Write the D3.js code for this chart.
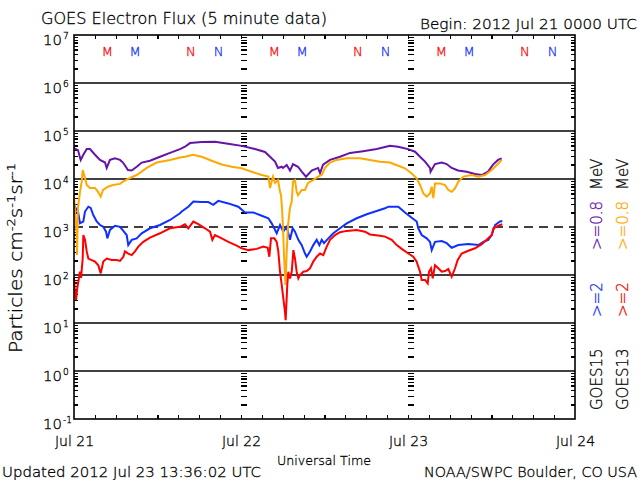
<!DOCTYPE html>
<html><head><meta charset="utf-8">
<script src="https://cdn.jsdelivr.net/npm/d3@7"></script>
<style>
body{margin:0;background:#fff}
svg{display:block}
text{font-family:"DejaVu Sans",sans-serif;font-weight:200}
</style>
</head><body>
<svg id="c" width="640" height="480"></svg>
<script>
// ---------------- DATA ----------------
// time in hours since 2012 Jul 21 00:00 UTC, flux in particles cm^-2 s^-1 sr^-1
const goes15_e08 = [[0,4.4e4],[0.57,4.0e4],[0.96,2.5e4],[1.34,3.2e4],[1.83,4.2e4],[2.30,4.2e4],[3.02,3.2e4],[3.74,2.5e4],[4.46,2.2e4],[4.70,1.7e4],[5.17,2.5e4],[5.89,2.7e4],[6.61,2.5e4],[7.04,2.2e4],[7.76,1.54e4],[8.29,1.5e4],[9.01,1.8e4],[9.73,2.2e4],[10.92,2.4e4],[12.36,2.9e4],[13.80,3.5e4],[15.23,4.2e4],[15.95,4.7e4],[16.67,5.6e4],[18.35,5.9e4],[20.26,6.0e4],[22.13,5.4e4],[24.10,4.9e4],[26.01,4.2e4],[27.45,3.65e4],[28.17,2.9e4],[28.89,2.3e4],[29.32,1.7e4],[29.85,1.8e4],[30.04,1.7e4],[30.57,1.96e4],[31.04,1.5e4],[31.47,2.05e4],[32.19,1.8e4],[32.73,1.42e4],[33.34,1.12e4],[34.16,1.5e4],[35.07,1.7e4],[35.36,1.33e4],[35.79,2.0e4],[36.79,2.5e4],[38.23,2.9e4],[39.67,3.5e4],[41.54,3.8e4],[43.50,4.2e4],[45.42,4.9e4],[46.57,4.7e4],[48.00,4.2e4],[49.01,3.7e4],[49.73,2.9e4],[50.45,2.3e4],[51.16,1.7e4],[51.24,1.42e4],[51.88,2.05e4],[52.85,2.2e4],[53.56,2.05e4],[54.28,1.7e4],[55.19,1.5e4],[56.44,1.42e4],[57.63,1.27e4],[58.60,1.21e4],[59.50,1.42e4],[60.22,2.0e4],[60.94,2.5e4],[61.47,2.7e4]];

const goes13_e08 = [[0,4.6e3],[0.14,2.1e3],[0.22,1.54e3],[0.39,6.8e2],[0.43,2.6e2],[0.57,2.5e3],[0.86,5.4e3],[1.11,8.8e3],[1.25,1.54e4],[1.58,1.05e4],[1.83,7.5e3],[2.30,6.5e3],[3.02,6.5e3],[3.45,5.4e3],[3.84,4.3e3],[4.17,5.9e3],[4.89,6.9e3],[5.61,7.5e3],[6.61,7.9e3],[7.04,8.8e3],[8.05,1.05e4],[9.01,1.21e4],[10.45,1.7e4],[11.89,2.2e4],[13.80,2.5e4],[15.23,2.8e4],[15.95,2.9e4],[17.10,3.2e4],[18.35,2.9e4],[19.79,2.4e4],[21.23,2.0e4],[22.66,1.8e4],[24.10,1.67e4],[25.54,1.42e4],[26.98,1.21e4],[27.93,1.12e4],[28.17,6.5e3],[28.60,1.12e4],[28.89,8.3e3],[29.32,9.5e3],[29.61,5.4e3],[29.75,4.6e3],[29.89,2.5e3],[30.04,9.5e2],[30.18,2.6e2],[30.39,62],[30.57,3.1e2],[30.76,1.1e3],[31.04,2.5e3],[31.29,3.4e3],[31.47,8.8e3],[31.76,9.5e3],[32.00,5.4e3],[32.19,4.6e3],[32.73,5.9e3],[33.20,5.9e3],[33.63,8.3e3],[34.35,9.5e3],[35.07,1.12e4],[35.60,1.21e4],[36.07,1.7e4],[36.79,2.2e4],[37.76,2.5e4],[39.19,2.7e4],[41.10,2.7e4],[42.54,2.5e4],[43.98,2.3e4],[45.42,2.2e4],[46.13,2.0e4],[47.57,1.67e4],[48.53,1.3e4],[49.25,1.03e4],[49.73,7.5e3],[50.20,5.0e3],[50.69,4.3e3],[51.16,5.0e3],[51.41,6.9e3],[51.64,4.0e3],[51.88,8.1e3],[52.60,8.1e3],[53.32,7.5e3],[53.79,5.9e3],[54.28,5.4e3],[54.76,6.4e3],[55.23,8.8e3],[55.95,1.12e4],[57.16,1.21e4],[58.11,1.12e4],[59.07,1.21e4],[60.03,1.54e4],[60.98,2.1e4],[61.47,2.5e4]];

const goes15_e2 = [[0,3.2e3],[0.14,2.65e3],[0.39,2.26e3],[0.57,2.1e3],[0.86,1.2e3],[1.34,1.3e3],[1.58,2.1e3],[2.06,2.65e3],[2.40,2.5e3],[2.77,1.78e3],[3.26,1.3e3],[3.74,1.1e3],[4.21,1.01e3],[4.60,8.0e2],[4.79,5.8e2],[5.17,8.7e2],[5.89,1.06e3],[6.61,1.01e3],[7.09,8.3e2],[7.57,6.8e2],[7.80,4.2e2],[8.29,5.4e2],[9.01,5.8e2],[9.73,7.4e2],[10.92,9.4e2],[12.36,1.1e3],[13.80,1.4e3],[15.23,1.93e3],[15.48,2.1e3],[16.43,2.65e3],[17.15,3.4e3],[18.35,3.3e3],[19.30,3.3e3],[20.02,2.9e3],[20.74,3.5e3],[22.18,3.1e3],[23.61,2.65e3],[24.58,2.0e3],[25.77,2.0e3],[26.98,1.72e3],[27.93,1.52e3],[28.41,1.19e3],[29.13,7.4e2],[29.61,1.1e3],[30.08,8.0e2],[30.57,1.01e3],[31.04,5.4e2],[31.43,9.4e2],[31.76,8.0e2],[32.24,5.4e2],[32.73,4.2e2],[33.20,2.8e2],[33.44,2.4e2],[33.92,3.1e2],[34.39,4.2e2],[34.88,5.4e2],[35.26,4.2e2],[35.60,5.4e2],[35.93,4.6e2],[36.55,5.8e2],[37.27,7.4e2],[38.23,9.4e2],[39.19,1.19e3],[40.63,1.52e3],[42.07,1.84e3],[43.50,2.15e3],[44.70,2.45e3],[45.17,2.65e3],[46.61,2.65e3],[47.57,2.0e3],[48.53,1.56e3],[49.25,1.3e3],[49.48,9.4e2],[49.97,6.8e2],[50.69,5.8e2],[51.16,4.9e2],[51.41,3.3e2],[51.88,4.9e2],[52.85,5.1e2],[53.56,4.6e2],[54.28,3.7e2],[55.23,4.2e2],[56.67,4.4e2],[58.11,4.2e2],[58.83,4.9e2],[59.54,5.4e2],[60.03,6.8e2],[60.51,1.1e3],[61.23,1.3e3],[61.56,1.33e3]];

const goes13_e2 = [[0,87],[0.07,62],[0.14,42],[0.29,30],[0.47,53],[0.62,72],[0.86,117],[1.01,87],[1.25,2.2e2],[1.34,6.8e2],[1.58,5.4e2],[1.83,3.1e2],[2.06,2.2e2],[2.54,2.05e2],[3.02,1.9e2],[3.49,1.6e2],[3.84,1.08e2],[4.21,1.9e2],[4.70,2.2e2],[5.42,2.05e2],[6.14,2.05e2],[6.61,1.96e2],[7.09,2.4e2],[7.33,3.1e2],[7.80,2.8e2],[8.29,2.6e2],[8.77,3.1e2],[9.24,3.9e2],[9.96,4.9e2],[10.92,6.0e2],[12.36,7.4e2],[13.80,9.4e2],[15.23,1.01e3],[15.95,1.14e3],[16.43,9.4e2],[17.15,1.3e3],[17.87,1.15e3],[18.83,9.4e2],[19.55,8.0e2],[19.88,5.4e2],[20.26,6.8e2],[21.23,5.8e2],[22.18,4.9e2],[23.38,4.1e2],[24.10,3.6e2],[25.05,3.3e2],[26.26,3.5e2],[27.21,3.9e2],[27.84,3.7e2],[28.07,2.4e2],[28.31,5.8e2],[28.79,5.8e2],[29.13,4.9e2],[29.36,3.1e2],[29.61,117],[29.85,62],[30.08,33],[30.32,17],[30.42,11.5],[30.65,62],[30.80,117],[31.04,85],[31.29,117],[31.53,3.3e2],[31.76,2.2e2],[32.00,117],[32.24,85],[32.48,100],[32.96,117],[33.44,121],[33.92,138],[34.39,1.9e2],[34.88,2.4e2],[35.36,2.8e2],[35.83,2.6e2],[36.32,3.9e2],[36.79,5.4e2],[37.51,6.8e2],[38.23,7.8e2],[39.19,8.3e2],[40.63,8.7e2],[41.82,8.0e2],[42.54,7.0e2],[43.98,6.6e2],[44.70,6.3e2],[45.66,5.4e2],[46.38,4.2e2],[47.10,3.5e2],[48.05,2.8e2],[48.76,2.4e2],[49.25,1.9e2],[49.48,1.49e2],[49.73,117],[49.97,79],[50.45,79],[50.83,67],[51.02,117],[51.31,138],[51.55,85],[51.88,1.6e2],[52.36,138],[52.85,117],[53.32,121],[53.79,133],[54.28,92],[54.76,138],[55.14,2.05e2],[55.72,2.8e2],[56.67,3.2e2],[57.63,3.6e2],[58.60,4.4e2],[59.31,5.4e2],[60.03,6.8e2],[60.27,9.4e2],[60.98,1.06e3],[61.56,1.14e3]];

const dayHours = [0, 24, 48, 72];
const dayLabels = ["Jul 21", "Jul 22", "Jul 23", "Jul 24"];
const decadeExps = [-1, 0, 1, 2, 3, 4, 5, 6, 7];
const solidGrid = [1e0, 1e1, 1e2, 1e4, 1e5, 1e6];
const dashedGrid = [1e3];
// local midnight (M) and noon (N) markers, hours UT
const g13Midnight = [4.8, 28.8, 52.8];
const g13Noon = [16.8, 40.8, 64.8];
const g15Midnight = [8.8, 32.8, 56.8];
const g15Noon = [20.8, 44.8, 68.8];

const titleText = "GOES Electron Flux (5 minute data)";
const beginText = "Begin: 2012 Jul 21 0000 UTC";
const updatedText = "Updated 2012 Jul 23 13:36:02 UTC";
const creditText = "NOAA/SWPC Boulder, CO USA";
const xTitle = "Universal Time";

// ---------------- CHART ----------------
const svg = d3.select("#c");
const X0 = 74, X1 = 575, Y0 = 35, Y1 = 419;
const x = d3.scaleLinear().domain([0, 72]).range([X0, X1]);
const y = d3.scaleLog().domain([1e-1, 1e7]).range([Y1, Y0]);

const minorVals = [];
for (let e = -1; e < 7; e++) for (let m = 2; m <= 9; m++) minorVals.push(m * Math.pow(10, e));

// grid lines
svg.append("g").selectAll("line").data(solidGrid).join("line")
  .attr("x1", X0).attr("x2", X1)
  .attr("y1", d => y(d)).attr("y2", d => y(d))
  .attr("stroke", "#000").attr("stroke-width", 1.6);
svg.append("g").selectAll("line").data(dashedGrid).join("line")
  .attr("x1", X0).attr("x2", X1)
  .attr("y1", d => y(d)).attr("y2", d => y(d))
  .attr("stroke", "#000").attr("stroke-width", 1.6).attr("stroke-dasharray", "9,6");

function styleAxis(g) {
  g.select(".domain").remove();
  g.selectAll(".tick line").attr("stroke", "#000").attr("stroke-width", 1.2).attr("shape-rendering", "crispEdges");
  g.selectAll(".tick text").remove();
}

// left / right minor ticks
svg.append("g").attr("transform", `translate(${X0},0)`)
  .call(d3.axisLeft(y).tickValues(minorVals).tickSize(-4).tickFormat(""))
  .call(styleAxis);
svg.append("g").attr("transform", `translate(${X1},0)`)
  .call(d3.axisRight(y).tickValues(minorVals).tickSize(-4).tickFormat(""))
  .call(styleAxis);
// dashes at day boundaries
[24, 48].forEach(h => {
  svg.append("g").attr("transform", `translate(${x(h)},0)`)
    .call(d3.axisRight(y).tickValues(minorVals).tickSize(6).tickFormat(""))
    .call(styleAxis);
});
// top / bottom 3-hour ticks
const hourTicks = d3.range(3, 72, 3);
svg.append("g").attr("transform", `translate(0,${Y0})`)
  .call(d3.axisTop(x).tickValues(hourTicks).tickSize(-4).tickFormat(""))
  .call(styleAxis);
svg.append("g").attr("transform", `translate(0,${Y1})`)
  .call(d3.axisBottom(x).tickValues(hourTicks).tickSize(-4).tickFormat(""))
  .call(styleAxis);

// data lines
const line = d3.line().x(d => x(d[0])).y(d => y(d[1]));
const series = [
  {data: goes15_e08, color: "#6414a8"},
  {data: goes15_e2, color: "#1030ff"},
  {data: goes13_e08, color: "#ffa800"},
  {data: goes13_e2, color: "#ff0000"}
];
svg.append("g").selectAll("path").data(series).join("path")
  .attr("d", d => line(d.data))
  .attr("fill", "none").attr("stroke", d => d.color)
  .attr("stroke-width", 2).attr("stroke-linejoin", "miter");

// frame
svg.append("rect").attr("x", X0).attr("y", Y0).attr("width", X1 - X0).attr("height", Y1 - Y0)
  .attr("fill", "none").attr("stroke", "#000").attr("stroke-width", 1.6);

// y tick labels 10^n
const yl = svg.append("g").selectAll("g").data(decadeExps).join("g");
yl.append("text").attr("x", 62).attr("y", d => y(Math.pow(10, d)) + 10)
  .attr("text-anchor", "end").attr("font-size", 14)
  .attr("textLength", 19).attr("lengthAdjust", "spacingAndGlyphs").text("10");
yl.append("text").attr("x", 63).attr("y", d => y(Math.pow(10, d)) + 4)
  .attr("font-size", 9).text(d => d < 0 ? "-" + Math.abs(d) : d);

// x labels
const xa = svg.append("g").attr("transform", `translate(0,${Y1})`)
  .call(d3.axisBottom(x).tickValues(dayHours).tickSize(0).tickPadding(17).tickFormat((d, i) => dayLabels[i]));
xa.select(".domain").remove();
xa.selectAll("text").attr("font-size", 14).attr("font-family", "DejaVu Sans").attr("font-weight", 200).attr("fill", "#000");

svg.append("text").attr("x", 324).attr("y", 465).attr("text-anchor", "middle")
  .attr("font-size", 13).attr("textLength", 94).attr("lengthAdjust", "spacingAndGlyphs").text(xTitle);

// title / header
svg.append("text").attr("x", 41).attr("y", 24).attr("font-size", 15)
  .attr("textLength", 286).attr("lengthAdjust", "spacingAndGlyphs").text(titleText);
svg.append("text").attr("x", 420).attr("y", 29).attr("font-size", 14)
  .attr("textLength", 217).attr("lengthAdjust", "spacingAndGlyphs").text(beginText);

// footer
svg.append("text").attr("x", 2).attr("y", 477).attr("font-size", 14)
  .attr("textLength", 259).attr("lengthAdjust", "spacingAndGlyphs").text(updatedText);
svg.append("text").attr("x", 424).attr("y", 477).attr("font-size", 14)
  .attr("textLength", 213).attr("lengthAdjust", "spacingAndGlyphs").text(creditText);

// M / N markers
const markers = [
  ...g13Midnight.map(h => ({h, t: "M", c: "#ff0000"})),
  ...g13Noon.map(h => ({h, t: "N", c: "#ff0000"})),
  ...g15Midnight.map(h => ({h, t: "M", c: "#1030ff"})),
  ...g15Noon.map(h => ({h, t: "N", c: "#1030ff"}))
];
svg.append("g").selectAll("text").data(markers).join("text")
  .attr("x", d => x(d.h)).attr("y", 56).attr("text-anchor", "middle")
  .attr("font-size", 13).attr("fill", d => d.c).text(d => d.t);

// y axis title
const yt = svg.append("text").attr("transform", "translate(22,353) rotate(-90)")
  .attr("font-size", 17).attr("textLength", 190).attr("lengthAdjust", "spacingAndGlyphs");
yt.append("tspan").text("Particles cm");
yt.append("tspan").attr("dy", -7).attr("font-size", 11).text("-2");
yt.append("tspan").attr("dy", 7).text("s");
yt.append("tspan").attr("dy", -7).attr("font-size", 11).text("-1");
yt.append("tspan").attr("dy", 7).text("sr");
yt.append("tspan").attr("dy", -7).attr("font-size", 11).text("-1");

// right legend columns
const legendCols = [
  {bx: 602, parts: [["GOES15", "#000", 410], [">=2", "#1030ff", 317], [">=0.8", "#6414a8", 250], ["MeV", "#000", 190]]},
  {bx: 628, parts: [["GOES13", "#000", 410], [">=2", "#ff0000", 317], [">=0.8", "#ffa800", 250], ["MeV", "#000", 190]]}
];
legendCols.forEach(col => {
  col.parts.forEach(([t, c, yy]) => {
    svg.append("text").attr("transform", `translate(${col.bx},${yy}) rotate(-90)`)
      .attr("font-size", 15).attr("fill", c).text(t);
  });
});

// darken the thin glyphs slightly
svg.selectAll("text").each(function () {
  const f = this.getAttribute("fill") || "#000";
  this.setAttribute("fill", f);
  this.setAttribute("stroke", f);
  this.setAttribute("stroke-width", 0.3);
});
</script>
</body></html>
